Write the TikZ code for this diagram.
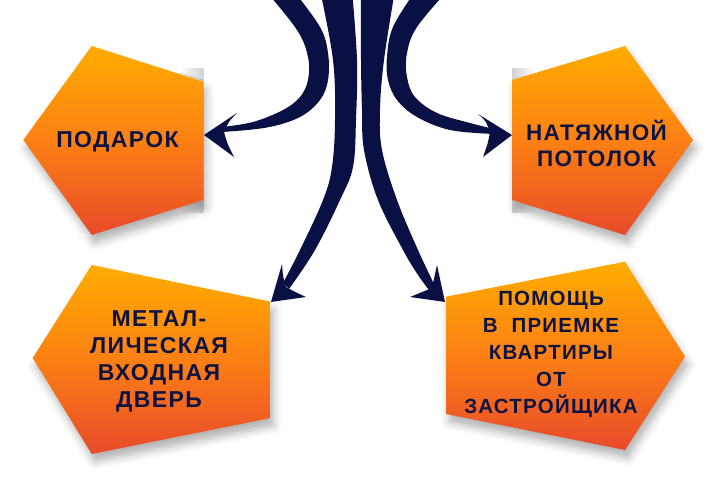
\documentclass[tikz,border=0pt]{standalone}
\usepackage{fontspec}
\newfontfamily\lblfont[LetterSpace=6]{Liberation Sans}
\usetikzlibrary{shadows.blur}
\definecolor{navy}{RGB}{10,16,68}
\definecolor{txtnavy}{RGB}{14,20,66}
\definecolor{otop}{RGB}{255,172,0}
\definecolor{omid}{RGB}{252,128,20}
\definecolor{obot}{RGB}{232,74,42}
\begin{document}
\begin{tikzpicture}[x=1pt,y=-1pt,
  pent/.style={top color=otop, bottom color=obot, middle color=omid, draw=none,
    blur shadow={shadow xshift=3pt, shadow yshift=-8pt, shadow blur radius=8pt, shadow opacity=30}},
  lbl/.style={text=txtnavy, font=\lblfont\bfseries\fontsize{23}{27}\selectfont, align=center, inner sep=0pt},
  lblsmall/.style={lbl, font=\lblfont\bfseries\fontsize{20.5}{27}\selectfont},
  arr/.style={fill=navy, draw=none},
  greybar/.style={draw=none}
]
\useasboundingbox (0,0) rectangle (716,489);
\clip (0,0) rectangle (716,489);

% grey side bars behind upper pentagons
\shade[greybar, left color=white, right color=black!18] (180,69) rectangle (203.3,213);
\shade[greybar, left color=black!18, right color=white] (512,69) rectangle (535,213);

% pentagons
\path[pent] (91.7,46) -- (203.3,81.7) -- (203.3,200) -- (91.7,235) -- (23.3,140) -- cycle;
\path[pent] (512,80) -- (625,46) -- (693,140) -- (625,235) -- (512,200) -- cycle;
\path[pent] (91.7,265) -- (270.7,301.7) -- (270.7,418) -- (91.7,454) -- (32.7,358) -- cycle;
\path[pent] (446,296.7) -- (625,261.7) -- (685,356.7) -- (625,450) -- (446,414) -- cycle;

% labels
\node[lbl] (t1) at (117.5,142) {ПОДАРОК};
\node[lbl, font=\lblfont\bfseries\fontsize{22.5}{26.5}\selectfont] (t2) at (596.5,143.5) {НАТЯЖНОЙ\\ПОТОЛОК};
\node[lbl] (t3) at (159,361) {МЕТАЛ-\\ЛИЧЕСКАЯ\\ВХОДНАЯ\\ДВЕРЬ};
\node[lblsmall] (t4) at (551,354) {ПОМОЩЬ\\В\ \ ПРИЕМКЕ\\КВАРТИРЫ\\ОТ\\ЗАСТРОЙЩИКА};

% arrow tips (on the pentagon edges)
\coordinate (a1tip) at (204,135);
\coordinate (a2tip) at (512,135);
\coordinate (a3tip) at (271,302);
\coordinate (a4tip) at (445,302);

% arrow 1 -> t1
\fill[arr] plot[smooth, tension=0.6] coordinates {(265,-10) (297,30) (308,57) (308,80) (300,97) (283,110) (253,122) (222,127)}
  -- plot[smooth, tension=0.6] coordinates {(222,132) (267,127.5) (300,117) (320,100) (328,80) (328,53) (320,27) (293,-10)} -- cycle;
\fill[arr] (a1tip) -- (237,113) .. controls (229,121) .. (224,132) .. controls (227,143) .. (234,157) -- cycle;

% arrow 2 -> t2
\fill[arr] plot[smooth, tension=0.6] coordinates {(416,-10) (393,27) (387,57) (388,80) (397,100) (417,117) (450,130) (494,134)}
  -- plot[smooth, tension=0.6] coordinates {(494,129) (470,123) (437,113) (415,97) (407,77) (407,53) (417,27) (448,-10)} -- cycle;
\fill[arr] (a2tip) -- (478,114) .. controls (486,121) .. (490,132) .. controls (488,143) .. (483,157) -- cycle;

% arrow 3 -> t3
\fill[arr] plot[smooth, tension=0.6] coordinates {(320,-10) (333,60) (335,120) (332,167) (323,200) (300,250) (283,283)}
  -- plot[smooth, tension=0.6] coordinates {(289,289) (315,250) (340,200) (353,167) (356,120) (357,60) (352,-10)} -- cycle;
\fill[arr] (a3tip) -- (282,264) .. controls (283,277) .. (286,287) .. controls (295,292) .. (306,297) -- cycle;

% arrow 4 -> t4
\fill[arr] plot[smooth, tension=0.6] coordinates {(361,-10) (361,60) (362,110) (364,150) (378,200) (403,250) (418,275) (429,290)}
  -- plot[smooth, tension=0.6] coordinates {(435,286) (418,250) (397,200) (382,150) (380,110) (384,60) (395,-10)} -- cycle;
\fill[arr] (a4tip) -- (437,265) .. controls (434,277) .. (432,288) .. controls (421,292) .. (410,297) -- cycle;
\end{tikzpicture}
\end{document}
